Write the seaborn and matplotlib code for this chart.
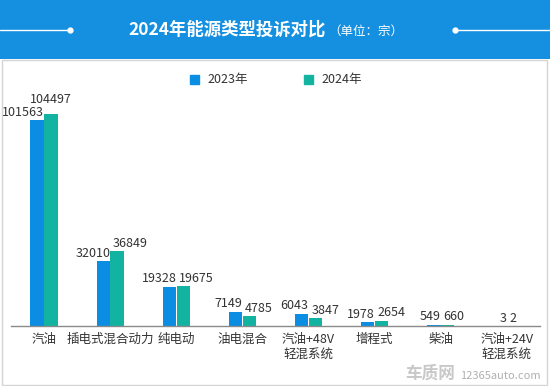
import matplotlib
matplotlib.use("Agg")
import matplotlib.pyplot as plt
import matplotlib.patches as mpatches
import seaborn as sns
import pandas as pd

# data
categories = ["汽油", "插电式混合动力", "纯电动", "油电混合", "汽油+48V\n轻混系统",
              "增程式", "柴油", "汽油+24V\n轻混系统"]
years = ["2023年", "2024年"]
values_2023 = [101563, 32010, 19328, 7149, 6043, 1978, 549, 3]
values_2024 = [104497, 36849, 19675, 4785, 3847, 2654, 660, 2]

colors = {"2023年": "#0a8de3", "2024年": "#12b3a0"}

df = pd.DataFrame({
    "category": categories * 2,
    "year": [years[0]] * len(categories) + [years[1]] * len(categories),
    "value": values_2023 + values_2024,
})

sns.set_style("white")
plt.rcParams["font.family"] = ["Noto Sans CJK SC", "DejaVu Sans"]

W, H = 550, 386
fig = plt.figure(figsize=(W / 100, H / 100), dpi=100)

# header band
fig.patches.append(mpatches.Rectangle((0, 1 - 59 / H), 1, 59 / H, transform=fig.transFigure,
                                      facecolor="#1590e0", edgecolor="none", zorder=-2))
# panel border
fig.patches.append(mpatches.Rectangle((1.5 / W, 1.5 / H), 545 / W, (H - 61) / H,
                                      transform=fig.transFigure, facecolor="white",
                                      edgecolor="#d4d4d4", linewidth=1, zorder=-2))

fig.text(227 / W, 1 - 30 / H, "2024年能源类型投诉对比", color="white", fontsize=12.5,
         fontweight="bold", ha="center", va="center")
fig.text(366 / W, 1 - 31 / H, "（单位：宗）", color="white", fontsize=9,
         ha="center", va="center")
# decorative lines with dots
fig.add_artist(plt.Line2D([0, 70 / W], [1 - 30 / H] * 2, color="white", lw=1, transform=fig.transFigure))
fig.add_artist(plt.Line2D([455 / W, 1], [1 - 30 / H] * 2, color="white", lw=1, transform=fig.transFigure))
fig.add_artist(plt.Line2D([70 / W, 455 / W], [1 - 30 / H] * 2, color="white", lw=0, marker="o",
                          markersize=3.5, transform=fig.transFigure))

ax = fig.add_axes([11 / W, (H - 326) / H, 529 / W, 231 / H])
sns.barplot(data=df, x="category", y="value", hue="year", palette=colors, ax=ax,
            width=0.42, gap=0.04, linewidth=0, saturation=1, legend=False)
ax.set_ylim(0, 114000)
ax.set_xlim(-0.5, len(categories) - 0.5)
ax.set_xlabel("")
ax.set_ylabel("")
ax.set_yticks([])
ax.patch.set_alpha(0)
for s in ["top", "right", "left"]:
    ax.spines[s].set_visible(False)
ax.spines["bottom"].set_color("#8a8a8a")
ax.spines["bottom"].set_linewidth(1)
ax.tick_params(axis="x", length=0, pad=5, labelsize=9, labelcolor="#333333")

# value labels
for i, (a, b) in enumerate(zip(values_2023, values_2024)):
    ax.annotate(f"{a}", (i, a), xytext=(0, 1), textcoords="offset points",
                ha="right", va="bottom", fontsize=9, color="#333333")
    if i == 0:
        # lifted above the neighbouring label
        ax.annotate(f"{b}", (i + 0.105, b), xytext=(0, 6), textcoords="offset points",
                    ha="center", va="bottom", fontsize=9, color="#333333")
    else:
        ax.annotate(f"{b}", (i, b), xytext=(2, 1), textcoords="offset points",
                    ha="left", va="bottom", fontsize=9, color="#333333")

handles = [mpatches.Patch(color=colors[y], label=y) for y in years]
fig.legend(handles=handles, loc="center", bbox_to_anchor=(276 / W, 1 - 80 / H), ncol=2,
           frameon=False, fontsize=9, handlelength=0.7, handleheight=0.7,
           columnspacing=4.5, handletextpad=0.7, labelcolor="#333333")

fig.text(430 / W, 1 - 374 / H, "车质网", color="#c8c8c8", fontsize=12, fontweight="bold",
         ha="center", va="center")
fig.text(500 / W, 1 - 376 / H, "12365auto.com", color="#b0b0b0", fontsize=8,
         ha="center", va="center")

fig.savefig("out.png", dpi=100)
